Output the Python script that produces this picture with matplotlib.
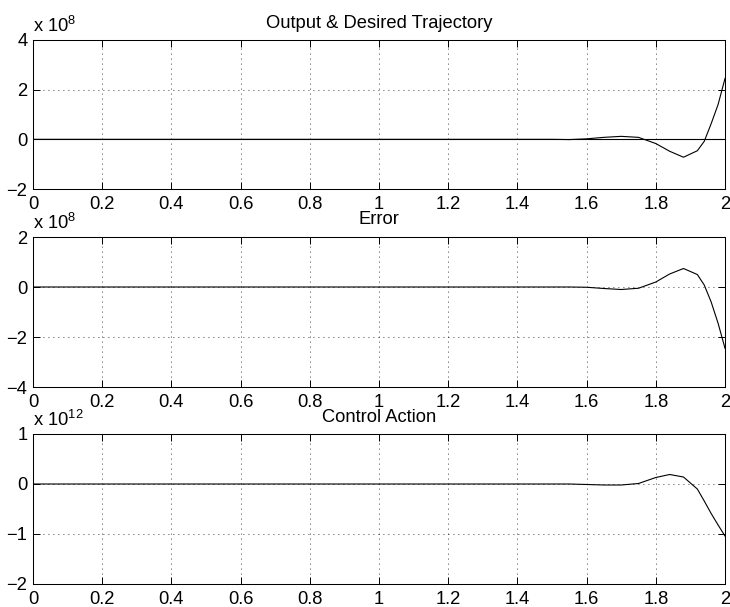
import numpy as np
import matplotlib
matplotlib.use("Agg")
import matplotlib.pyplot as plt

# ============================================================
# DANE (wartosci w jednostkach 1e8 / 1e12)
# ============================================================

t = [0.0, 1.4, 1.5, 1.55, 1.6, 1.65, 1.7, 1.75, 1.8,
     1.84, 1.88, 1.92, 1.94, 1.96, 1.98, 2.0]

output_e8 = [0.0, 0.0, 0.0, -0.01, 0.02, 0.08, 0.12, 0.08, -0.17,
             -0.48, -0.72, -0.46, -0.08, 0.63, 1.40, 2.45]
desired_e8 = [0.0] * len(t)

error_e8 = [0.0, 0.0, 0.0, 0.0, -0.01, -0.06, -0.10, -0.05, 0.20,
            0.52, 0.74, 0.50, 0.08, -0.60, -1.45, -2.45]

control_e12 = [0.0, 0.0, 0.0, 0.0, -0.01, -0.02, -0.02, 0.01, 0.13,
               0.19, 0.14, -0.10, -0.34, -0.59, -0.82, -1.04]

x_ticks = [0, 0.2, 0.4, 0.6, 0.8, 1.0, 1.2, 1.4, 1.6, 1.8, 2.0]
x_labels = ["0", "0.2", "0.4", "0.6", "0.8", "1", "1.2", "1.4", "1.6", "1.8", "2"]

# ============================================================
# STYL
# ============================================================

FS = 13.2

plt.rcParams["font.family"] = ["Liberation Sans", "DejaVu Sans"]
plt.rcParams["font.size"] = FS
plt.rcParams["mathtext.fontset"] = "custom"
plt.rcParams["mathtext.rm"] = "Liberation Sans"
plt.rcParams["mathtext.it"] = "Liberation Sans"
plt.rcParams["mathtext.bf"] = "Liberation Sans"

fig = plt.figure(figsize=(7.30, 6.07), dpi=100)

left = 33 / 730
width = (725 - 33) / 730
positions = [
    [left, 1 - 189 / 607, width, 149 / 607],
    [left, 1 - 387 / 607, width, 150 / 607],
    [left, 1 - 584 / 607, width, 150 / 607],
]

panels = [
    ("Output & Desired Trajectory", [output_e8, desired_e8], (-2, 4), [-2, 0, 2, 4], "8"),
    ("Error", [error_e8], (-4, 2), [-4, -2, 0, 2], "8"),
    ("Control Action", [control_e12], (-2, 1), [-2, -1, 0, 1], "12"),
]

# ============================================================
# WYKRESY
# ============================================================

for pos, (title, series, ylim, yticks, exp) in zip(positions, panels):

    ax = fig.add_axes(pos)

    for values in series:
        ax.plot(t, values, color="black", linewidth=0.8)

    ax.set_xlim(0, 2)
    ax.set_ylim(*ylim)
    ax.set_xticks(x_ticks)
    ax.set_xticklabels(x_labels)
    ax.set_yticks(yticks)

    ax.grid(True, color="black", linewidth=0.6, linestyle=(0, (1, 5)))
    ax.tick_params(direction="in", length=5, width=0.7,
                   top=True, right=True, labelsize=FS)
    ax.tick_params(axis="x", pad=5)
    ax.tick_params(axis="y", pad=4)

    for spine in ax.spines.values():
        spine.set_linewidth(0.75)

    ax.set_title(title, fontsize=FS, pad=9)

    # mnoznik osi Y nad lewym gornym rogiem
    ax.annotate(r"x 10$^{%s}$" % exp, xy=(0, 1), xycoords="axes fraction",
                xytext=(0, 5.5), textcoords="offset points",
                ha="left", va="baseline", fontsize=FS)

fig.savefig("out.png", dpi=100, facecolor="white")
